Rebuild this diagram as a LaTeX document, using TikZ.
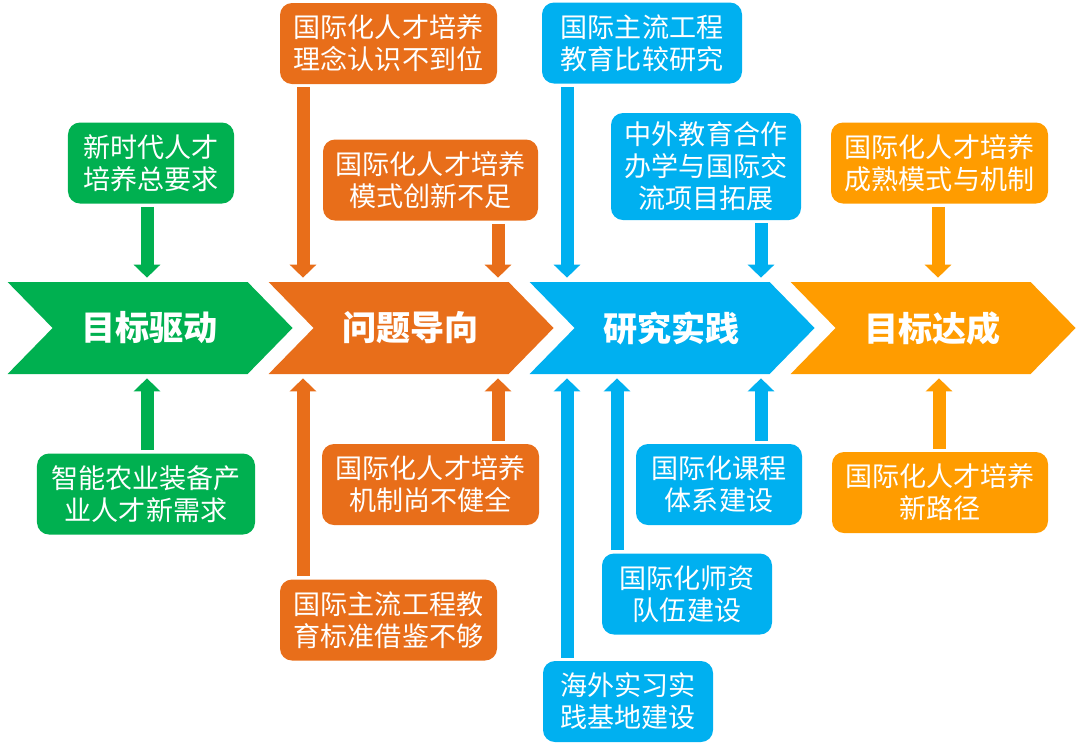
\documentclass[tikz,border=0pt]{standalone}
\usepackage{fontspec}
\usetikzlibrary{positioning,arrows.meta}
\newfontfamily\cjk{Noto Sans CJK SC}
\definecolor{goalc}{HTML}{00B050}
\definecolor{probc}{HTML}{E86E1A}
\definecolor{studyc}{HTML}{00B0F0}
\definecolor{donec}{HTML}{FF9C00}

\begin{document}
\begin{tikzpicture}[
  x=0.2mm, y=-0.2mm,
  every node/.style={font=\cjk},
  box/.style={
    rectangle, rounded corners=2.4mm,
    text=white, align=center, inner sep=0pt,
    minimum width=43.4mm, minimum height=16.2mm,
    font=\cjk\fontsize{15.4}{18.2}\selectfont
  },
  stage/.style={
    minimum width=48mm, minimum height=18.4mm, inner sep=0pt,
    text=white, font=\cjk\bfseries\fontsize{19.4}{23}\selectfont
  },
  arr/.style={-{Triangle[length=2.6mm,width=5.2mm]}, line width=2.6mm,
    shorten <=0.6mm, shorten >=0.8mm}
]
\useasboundingbox (0,0) rectangle (1080,751);

% Four chevrons along the middle
\foreach \i/\col/\nm/\txt in {0/goalc/goal/目标驱动, 1/probc/prob/问题导向,
    2/studyc/study/研究实践, 3/donec/done/目标达成}{
  \fill[\col] ({7.6+261*\i},282) -- ++(240,0) -- ++(45,46) -- ++(-45,46)
    -- ++(-240,0) -- ++(45,-46) -- cycle;
  \node[stage] (\nm) at ({149.6+261*\i},328) {\txt};
}

% Goal boxes
\node[box, fill=goalc, minimum width=33.2mm] (g1) at (151,163) {新时代人才\\培养总要求};
\node[box, fill=goalc, minimum width=43.6mm] (g2) at (146,494) {智能农业装备产\\业人才新需求};

% Problem boxes
\node[box, fill=probc] (oA) at (388.5,43.5) {国际化人才培养\\理念认识不到位};
\node[box, fill=probc, minimum width=43mm] (oB) at (430.5,180) {国际化人才培养\\模式创新不足};
\node[box, fill=probc] (oC) at (430.5,484.5) {国际化人才培养\\机制尚不健全};
\node[box, fill=probc] (oD) at (388.5,620) {国际主流工程教\\育标准借鉴不够};

% Study boxes
\node[box, fill=studyc, minimum width=40mm] (bA) at (642,43) {国际主流工程\\教育比较研究};
\node[box, fill=studyc, minimum width=38mm, minimum height=21.4mm] (bB) at (706,166.5) {中外教育合作\\办学与国际交\\流项目拓展};
\node[box, fill=studyc, minimum width=33.2mm] (bC) at (719,484.5) {国际化课程\\体系建设};
\node[box, fill=studyc, minimum width=34mm] (bD) at (687,594) {国际化师资\\队伍建设};
\node[box, fill=studyc, minimum width=34mm] (bE) at (628,701.5) {海外实习实\\践基地建设};

% Outcome boxes
\node[box, fill=donec] (y1) at (939.5,163) {国际化人才培养\\成熟模式与机制};
\node[box, fill=donec, minimum width=43.2mm] (y2) at (940,492.5) {国际化人才培养\\新路径};

% Arrows into the chevrons
\draw[arr, goalc] ([xshift=-0.8mm]g1.south) -- ([xshift=-0.8mm]g1.south |- goal.north);
\draw[arr, goalc] ([xshift=0.2mm]g2.north) -- ([xshift=0.2mm]g2.north |- goal.south);

\draw[arr, probc] ([xshift=-17.1mm]oA.south) -- ([xshift=-17.1mm]oA.south |- prob.north);
\draw[arr, probc] ([xshift=13.5mm]oB.south) -- ([xshift=13.5mm]oB.south |- prob.north);
\draw[arr, probc] ([xshift=13.5mm]oC.north) -- ([xshift=13.5mm]oC.north |- prob.south);
\draw[arr, probc] ([xshift=-17.1mm]oD.north) -- ([xshift=-17.1mm]oD.north |- prob.south);

\draw[arr, studyc] ([xshift=-15mm]bA.south) -- ([xshift=-15mm]bA.south |- study.north);
\draw[arr, studyc] ([xshift=11mm]bB.south) -- ([xshift=11mm]bB.south |- study.north);
\draw[arr, studyc] ([xshift=8.4mm]bC.north) -- ([xshift=8.4mm]bC.north |- study.south);
\draw[arr, studyc] ([xshift=-14mm]bD.north) -- ([xshift=-14mm]bD.north |- study.south);
\draw[arr, studyc] ([xshift=-12.2mm]bE.north) -- ([xshift=-12.2mm]bE.north |- study.south);

\draw[arr, donec] ([xshift=-0.3mm]y1.south) -- ([xshift=-0.3mm]y1.south |- done.north);
\draw[arr, donec] ([xshift=-0.2mm]y2.north) -- ([xshift=-0.2mm]y2.north |- done.south);

\end{tikzpicture}
\end{document}
